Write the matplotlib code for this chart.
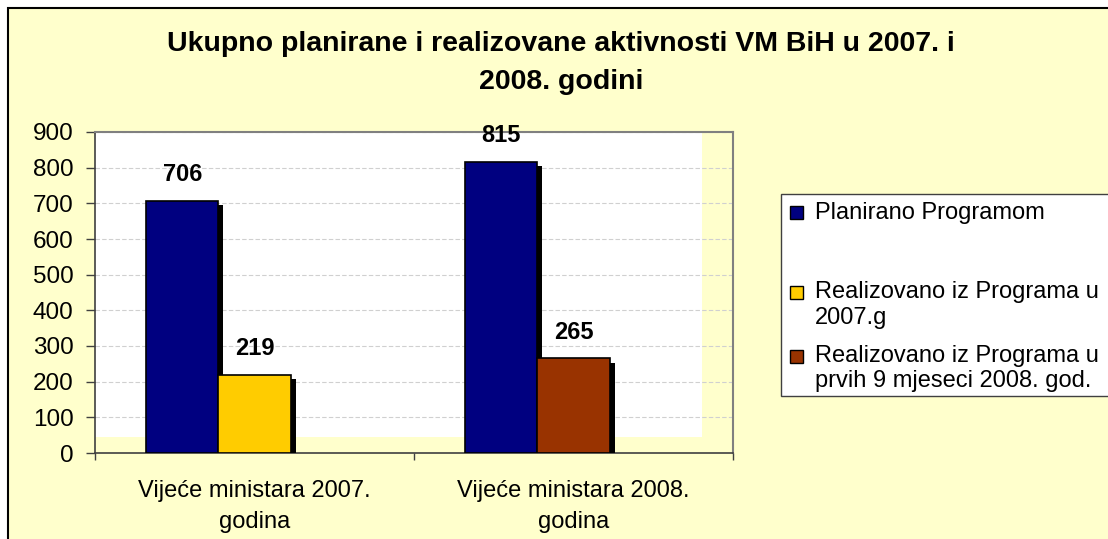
import matplotlib
matplotlib.use("Agg")
import matplotlib.pyplot as plt
import matplotlib.patches as mpatches
import matplotlib.patheffects as pe
import numpy as np

plt.rcParams['font.family'] = ['Liberation Sans', 'DejaVu Sans']

categories = ["Vijeće ministara 2007.\ngodina", "Vijeće ministara 2008.\ngodina"]
planned = [706, 815]
realized = [219, 265]
realized_colors = ["#FFCC00", "#993300"]
legend_labels = ["Planirano Programom",
                 "Realizovano iz Programa u\n2007.g",
                 "Realizovano iz Programa u\nprvih 9 mjeseci 2008. god."]
legend_colors = ["#000080", "#FFCC00", "#993300"]
yticks = list(range(0, 1000, 100))
title = "Ukupno planirane i realizovane aktivnosti VM BiH u 2007. i\n2008. godini"

W, H = 1108, 539
fx = lambda px: px / W
fy = lambda py: 1 - py / H

fig = plt.figure(figsize=(W / 100, H / 100), dpi=100, facecolor="white")

# chart area background with border
bg = mpatches.Rectangle((fx(8), -0.1), 1.2, fy(8) + 0.1, transform=fig.transFigure,
                        facecolor="#FFFFCC", edgecolor="black", linewidth=1.5, zorder=-10)
fig.patches.append(bg)

ax = fig.add_axes([fx(95), fy(453), 638 / W, 321 / H])
ax.set_zorder(1)
ax.set_facecolor("#FFFFCC")
ax.add_patch(mpatches.Rectangle((0, 0.05), 0.951, 0.95, transform=ax.transAxes,
                                facecolor="white", edgecolor="none", zorder=0))

x = np.arange(len(categories))
w = 0.226
shadow = [pe.SimplePatchShadow(offset=(3.6, -2.9), shadow_rgbFace="black", alpha=1.0), pe.Normal()]
b1 = ax.bar(x - w, planned, width=w, color="#000080", edgecolor="black",
            linewidth=1.2, zorder=3, path_effects=shadow)
b2 = ax.bar(x, realized, width=w, color=realized_colors, edgecolor="black",
            linewidth=1.2, zorder=3, path_effects=shadow)

for bars, vals in ((b1, planned), (b2, realized)):
    for r, v in zip(bars, vals):
        ax.annotate(str(v), (r.get_x() + r.get_width() / 2, v), xytext=(0, 19),
                    textcoords="offset points", ha="center", va="center",
                    fontsize=17, fontweight="bold", zorder=5)

ax.set_xlim(-0.5, 1.5)
ax.set_ylim(0, 900)
ax.set_yticks(yticks)
ax.tick_params(axis="y", labelsize=17.5, length=6.5, width=1, color="#404040", pad=9)
ax.set_xticks([-0.5, 0.5, 1.5])
ax.set_xticklabels([])
ax.tick_params(axis="x", length=5, width=1, color="#404040", direction="out")
for xi, lab in zip(x, categories):
    ax.text(xi, -0.085, lab, transform=ax.get_xaxis_transform(), ha="center", va="top",
            fontsize=17, linespacing=1.52)

ax.yaxis.grid(True, color="#d0d0d0", linestyle=(0, (4, 2)), linewidth=0.8, zorder=1)
ax.set_axisbelow(True)
for s in ("left", "bottom"):
    ax.spines[s].set_color("#404040")
    ax.spines[s].set_linewidth(1.2)
for s in ("top", "right"):
    ax.spines[s].set_color("#808080")
    ax.spines[s].set_linewidth(1.5)

fig.text(fx(561), fy(63), title, ha="center", va="center", fontsize=20.5,
         fontweight="bold", linespacing=1.62)

# legend drawn manually (Excel-style, markers aligned with first line)
lx0, ly0, lx1, ly1 = 781, 194, 1120, 396
fig.patches.append(mpatches.Rectangle((fx(lx0), fy(ly1)), fx(lx1) - fx(lx0), fy(ly0) - fy(ly1),
                                      transform=fig.transFigure, facecolor="white",
                                      edgecolor="#404040", linewidth=1, zorder=2))
line_y = [[213], [292, 318], [356, 381]]
sq = 13
for col, lab, ys in zip(legend_colors, legend_labels, line_y):
    fig.patches.append(mpatches.Rectangle((fx(790), fy(ys[0] + sq / 2)), sq / W, sq / H,
                                          transform=fig.transFigure, facecolor=col,
                                          edgecolor="black", linewidth=1, zorder=3))
    for line, yy in zip(lab.split("\n"), ys):
        fig.text(fx(815), fy(yy), line, ha="left", va="center", fontsize=17, zorder=4)

fig.savefig("out.png", dpi=100, facecolor=fig.get_facecolor())
